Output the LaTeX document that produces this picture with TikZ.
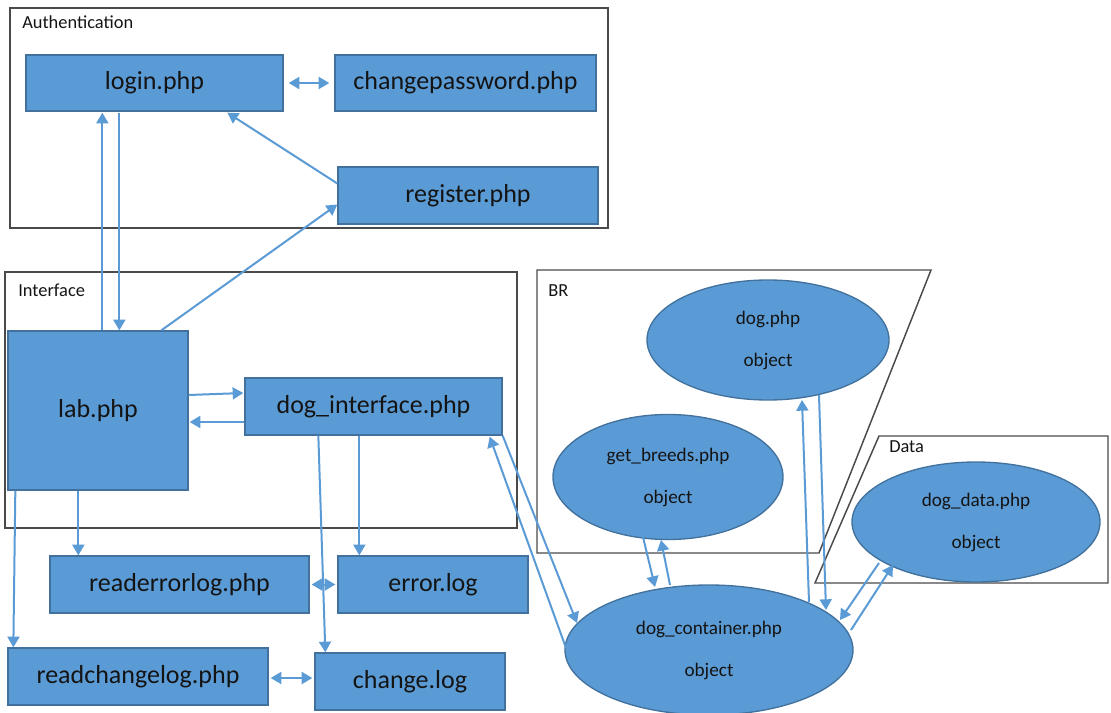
\documentclass[tikz,border=0pt]{standalone}
\usepackage{fontspec}
\setmainfont{Carlito}
\usetikzlibrary{shapes.geometric,arrows.meta}
\definecolor{boxfill}{HTML}{5B9BD5}
\definecolor{boxline}{HTML}{41719C}
\definecolor{arrowc}{HTML}{5B9BD5}
\definecolor{framec}{HTML}{4A4A4A}
\definecolor{txtc}{HTML}{141414}
\newlength\pxu
\setlength\pxu{0.75pt}
\newcommand\boxfont{\fontsize{19.5}{23}\selectfont}
\newcommand\objfont{\fontsize{14.4}{31.5}\selectfont}
\newcommand\lblfont{\fontsize{13.8}{16}\selectfont}
\begin{document}
\begin{tikzpicture}[x=0.75pt,y=-0.75pt,
  box/.style={rectangle, draw=boxline, fill=boxfill, line width=1pt, font=\boxfont, text=txtc, inner sep=0pt},
  bsize/.style 2 args={minimum width=#1*\pxu, minimum height=#2*\pxu},
  obj/.style={ellipse, draw=boxline, fill=boxfill, line width=1pt, font=\objfont, text=txtc, align=center, inner sep=0pt},
  arr/.style={draw=arrowc, line width=1.5pt, -{Triangle[length=8pt,width=9pt]}},
  darr/.style={draw=arrowc, line width=1.5pt, {Triangle[length=8pt,width=9pt]}-{Triangle[length=8pt,width=9pt]}},
  frame/.style={draw=framec, line width=1.1pt},
  lbl/.style={font=\lblfont, text=txtc, anchor=west, inner sep=0pt}
]
\useasboundingbox (0,0) rectangle (1111,713);
\clip (0,0) rectangle (1111,713);

% frames
\draw[frame] (10,8) rectangle (608,228);
\draw[frame] (5,272) rectangle (517,528);
\draw[frame] (537,270) -- (931,270) -- (819,553) -- (537,553) -- cycle;
\draw[frame] (879,436) -- (1108,436) -- (1108,583) -- (815,583) -- cycle;
\node[lbl] (lauth) at (22,22) {Authentication};
\node[lbl] (lint) at (18,290) {Interface};
\node[lbl] (lbr) at (548,291) {BR};
\node[lbl] (ldata) at (889,447) {Data};

% boxes
\node[box, bsize={257}{56}] (login) at (154.5,83) {login.php};
\node[box, bsize={261}{56}] (changepw) at (465.5,83) {changepassword.php};
\node[box, bsize={260}{57}] (register) at (468,195.5) {register.php};
\node[box, bsize={180}{159}] (lab) at (98,410.5) {lab.php};
\node[box, bsize={257}{57}] (doginterface) at (373.5,406.5) {dog\_interface.php};
\node[box, bsize={259}{57}] (readerrorlog) at (179.5,584.5) {readerrorlog.php};
\node[box, bsize={190}{57}] (errorlog) at (433,584.5) {error.log};
\node[box, bsize={260}{57}] (readchangelog) at (138,676.5) {readchangelog.php};
\node[box, bsize={190}{57}] (changelog) at (410,681.5) {change.log};

% objects
\node[obj, bsize={242}{120}] (dog) at (768,340) {dog.php\\object};
\node[obj, bsize={230}{125}] (getbreeds) at (668,477) {get\_breeds.php\\object};
\node[obj, bsize={248}{120}] (dogdata) at (976,522) {dog\_data.php\\object};
\node[obj, bsize={288}{130}] (container) at (709,650) {dog\_container.php\\object};

% connectors
\draw[darr, shorten <=3.75pt, shorten >=3.75pt] (login) -- (changepw);
\draw[arr] ([shift={(0,-12)}]register.west) -- ([shift={(202,1)}]login.south west);
\draw[arr] ([shift={(95,0)}]lab.north west) -- ([shift={(77,1)}]login.south west);
\draw[arr] ([shift={(94,1)}]login.south west) -- ([shift={(112,0)}]lab.north west);
\draw[arr] ([shift={(154,0)}]lab.north west) -- ([shift={(0,9)}]register.west);
\draw[arr] ([shift={(0,-15.5)}]lab.east) -- ([shift={(-1,-13.5)}]doginterface.west);
\draw[arr] ([shift={(0,15.5)}]doginterface.west) -- ([shift={(1,11.5)}]lab.east);
\draw[arr] ([shift={(71,0)}]lab.south west) -- ([shift={(29,0)}]readerrorlog.north west);
\draw[arr] ([shift={(8,0)}]lab.south west) -- ([shift={(6,0)}]readchangelog.north west);
\draw[arr] ([shift={(115,0)}]doginterface.south west) -- ([shift={(22,0)}]errorlog.north west);
\draw[arr] ([shift={(74,0)}]doginterface.south west) -- ([shift={(11,0)}]changelog.north west);
\draw[darr, shorten <=1.5pt, shorten >=1.5pt] (readerrorlog) -- (errorlog);
\draw[darr] ([shift={(2,1.5)}]readchangelog.east) -- ([shift={(-2,-3.5)}]changelog.west);
\draw[arr] (doginterface.south east) -- ([shift={(-132,-27)}]container.center);
\draw[arr] ([shift={(-143,-2)}]container.center) -- ([shift={(-13,1)}]doginterface.south east);
\draw[arr] ([shift={(-25,60)}]getbreeds.center) -- ([shift={(-54,-63)}]container.center);
\draw[arr] ([shift={(-39,-65)}]container.center) -- ([shift={(-7,63)}]getbreeds.center);
\draw[arr] ([shift={(100,-48)}]container.center) -- ([shift={(34,60)}]dog.center);
\draw[arr] ([shift={(51,55)}]dog.center) -- ([shift={(117,-40)}]container.center);
\draw[arr] ([shift={(-97,41)}]dogdata.center) -- ([shift={(131,-30)}]container.center);
\draw[arr] ([shift={(142,-20)}]container.center) -- ([shift={(-83,43)}]dogdata.center);
\end{tikzpicture}
\end{document}
